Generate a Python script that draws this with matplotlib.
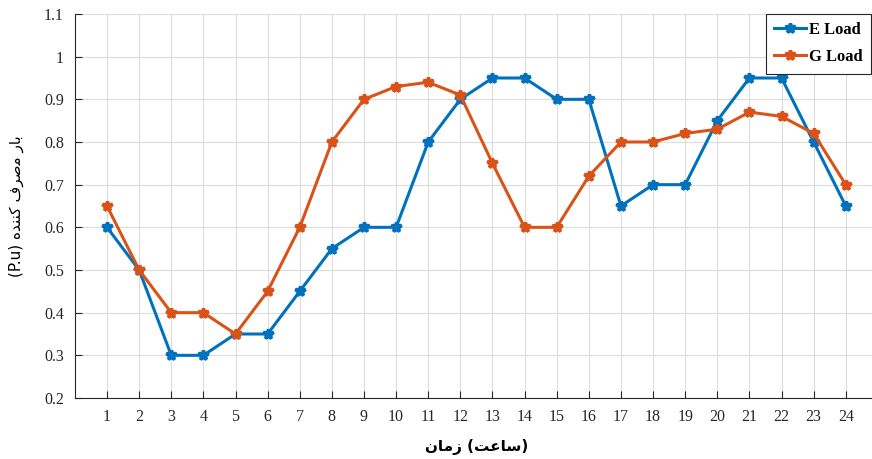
import matplotlib.pyplot as plt

hours = list(range(1, 25))
e_load = [0.6, 0.5, 0.3, 0.3, 0.35, 0.35, 0.45, 0.55, 0.6, 0.6, 0.8, 0.9,
          0.95, 0.95, 0.9, 0.9, 0.65, 0.7, 0.7, 0.85, 0.95, 0.95, 0.8, 0.65]
g_load = [0.65, 0.5, 0.4, 0.4, 0.35, 0.45, 0.6, 0.8, 0.9, 0.93, 0.94, 0.91,
          0.75, 0.6, 0.6, 0.72, 0.8, 0.8, 0.82, 0.83, 0.87, 0.86, 0.82, 0.7]
y_ticks = [0.2, 0.3, 0.4, 0.5, 0.6, 0.7, 0.8, 0.9, 1.0, 1.1]
y_tick_labels = ['0.2', '0.3', '0.4', '0.5', '0.6', '0.7', '0.8', '0.9', '1', '1.1']

# Persian labels written in visual order with presentation forms (no shaping in matplotlib)
bar_w = '\uFEAD\uFE8E\uFE91'                 # بار
masraf_w = '\uFED1\uFEAE\uFEBB\uFEE3'        # مصرف
konande_w = '\uFEE9\uFEAA\uFEE8\uFEE8\uFB90' # کننده
ylabel_text = '(P.u) ' + konande_w + ' ' + masraf_w + ' ' + bar_w
zaman_w = '\uFEE5\uFE8E\uFEE3\uFEAF'         # زمان
saat_w = '\uFE96\uFECB\uFE8E\uFEB3'          # ساعت
xlabel_text = zaman_w + ' (' + saat_w + ')'

blue = '#0072BD'
orange = '#D95319'

fig = plt.figure(figsize=(8.72, 4.59), dpi=100)
ax = fig.add_axes([74.9 / 872, 61 / 459, 803 / 872, 384 / 459])

ax.plot(hours, e_load, '-', color=blue, lw=2.2, marker='*', ms=7, mew=2.4, label='E Load', zorder=3)
ax.plot(hours, g_load, '-', color=orange, lw=2.2, marker='*', ms=7, mew=2.4, label='G Load', zorder=3)

ax.set_xlim(0, 25)
ax.set_ylim(0.2, 1.1)
ax.set_xticks(hours)
ax.set_yticks(y_ticks)
ax.set_yticklabels(y_tick_labels)
ax.grid(True, color='#dcdcdc', lw=0.8)
ax.set_axisbelow(True)
for s in ['top', 'right']:
    ax.spines[s].set_visible(False)
for s in ['left', 'bottom']:
    ax.spines[s].set_color('#262626')
    ax.spines[s].set_linewidth(0.8)
ax.tick_params(direction='in', length=5, color='#262626', labelcolor='#262626', pad=8)
for lab in ax.get_xticklabels() + ax.get_yticklabels():
    lab.set_fontfamily('Liberation Serif')
    lab.set_fontsize(11.5)

ax.set_xlabel(xlabel_text, fontfamily='DejaVu Sans', fontsize=11, fontweight='bold', labelpad=10)
ax.set_ylabel(ylabel_text, fontfamily='DejaVu Sans', fontsize=11, labelpad=14)

leg = ax.legend(loc='upper left', bbox_to_anchor=(766 / 872, 1 - 14 / 459),
                bbox_transform=fig.transFigure, fancybox=False, framealpha=1,
                edgecolor='#262626', prop={'family': 'Liberation Serif', 'weight': 'bold', 'size': 12},
                handlelength=1.9, handletextpad=0.2, labelspacing=0.65, borderpad=0.5,
                borderaxespad=0)
leg.get_frame().set_linewidth(0.8)

fig.savefig('out.png', dpi=100)
